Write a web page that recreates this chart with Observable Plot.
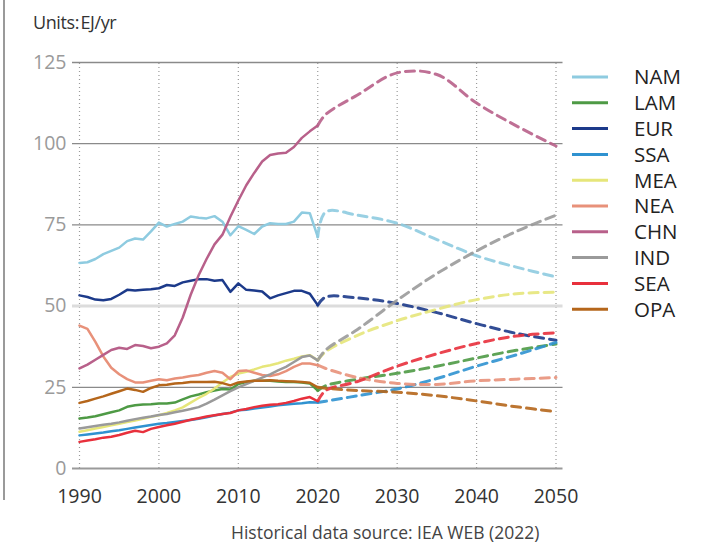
<!DOCTYPE html>
<html>
<head>
<meta charset="utf-8">
<script src="https://cdn.jsdelivr.net/npm/d3@7"></script>
<script src="https://cdn.jsdelivr.net/npm/@observablehq/plot@0.6"></script>
<style>
  html, body { margin: 0; padding: 0; background: #fff; }
  #wrap { position: relative; width: 714px; height: 545px; font-family: "Open Sans", "Noto Sans", sans-serif; overflow: hidden; }
  #wrap svg { display: block; }
  #units { position: absolute; left: 33px; top: 10px; font-size: 18px; letter-spacing: -0.4px; color: #333; white-space: nowrap; }
  #caption { position: absolute; left: 231px; top: 520px; font-size: 17.5px; color: #444; white-space: nowrap; }
  #border { position: absolute; left: 3px; top: 0; width: 2px; height: 500px; background: #9a9a9a; }
  #legend { position: absolute; left: 0; top: 0; }
</style>
</head>
<body>
<div id="wrap">
  <div id="border"></div>
  <div id="units">Units:&#8202;EJ/yr</div>
  <div id="chart"></div>
  <div id="caption">Historical data source: IEA WEB (2022)</div>
</div>
<script>
// ---------------- data ----------------
const regions = ["NAM", "LAM", "EUR", "SSA", "MEA", "NEA", "CHN", "IND", "SEA", "OPA"];
const regionColors = ["#8ecbe0", "#4e9a45", "#1c3a8a", "#2f92d0", "#e6e67a", "#e8917a", "#b8608a", "#9a9a9a", "#e8303c", "#b5661b"];

const histYears = d3.range(1990, 2021); // 1990..2020
const projYears = [2020, 2021, 2025, 2030, 2035, 2040, 2045, 2050];

const histNAM = [63.3, 63.5, 64.5, 66, 67, 68, 70, 70.8, 70.5, 73, 75.7, 74.5, 75.3, 76, 77.6, 77.2, 77, 77.7, 76, 71.8, 74.6, 73.5, 72.2, 74.5, 75.5, 75.3, 75.3, 76, 78.8, 78.6, 71.3];
const histLAM = [15.4, 15.7, 16.1, 16.7, 17.3, 17.9, 19, 19.5, 19.7, 19.8, 20, 20, 20.3, 21.3, 22.2, 22.8, 23.5, 24, 24.5, 24.3, 26, 26.6, 27, 27, 27, 26.8, 26.6, 26.6, 26.5, 26.2, 24];
const histEUR = [53.3, 52.8, 52, 51.8, 52.2, 53.5, 55, 54.8, 55, 55.2, 55.5, 56.5, 56.2, 57.3, 57.8, 58.3, 58.3, 57.8, 58, 54.4, 57, 55, 54.8, 54.5, 52.4, 53.3, 54, 54.7, 54.7, 53.8, 50.3];
const histSSA = [10.2, 10.5, 10.8, 11.1, 11.5, 11.8, 12.2, 12.6, 13, 13.4, 13.8, 14, 14.3, 14.6, 14.9, 15.3, 15.8, 16.3, 16.8, 17.2, 17.9, 18.1, 18.5, 18.8, 19.1, 19.5, 19.7, 19.9, 20.1, 20.4, 20.3];
const histMEA = [11.3, 11.8, 12.3, 12.8, 13.3, 13.8, 14.3, 14.8, 15.3, 15.9, 16.4, 17.1, 17.9, 18.8, 20.3, 21.7, 23, 24.6, 26.5, 28.2, 29.2, 29.8, 30.5, 31.3, 31.8, 32.4, 33.2, 33.8, 34.5, 34.9, 33.3];
const histNEA = [44, 43, 39, 34.5, 31, 29, 27.5, 26.5, 26.5, 27, 27.5, 27.2, 27.7, 28, 28.5, 28.8, 29.5, 30, 29.5, 27.5, 30, 30.2, 29.5, 28.8, 28.5, 29, 30, 31.3, 32.3, 32.3, 31.8];
const histCHN = [30.8, 32, 33.5, 35, 36.5, 37.2, 36.8, 38, 37.7, 37, 37.5, 38.5, 41, 46.5, 53.5, 59.5, 64.5, 69, 72, 77.5, 82.5, 87.2, 91, 94.5, 96.5, 97, 97.2, 99, 101.8, 103.8, 105.6];
const histIND = [12.3, 12.7, 13.1, 13.5, 13.8, 14.2, 14.7, 15.2, 15.6, 16, 16.5, 16.8, 17.3, 17.8, 18.3, 18.9, 20, 21.2, 22.5, 23.8, 25, 26, 27, 28, 29, 30.2, 31.3, 32.8, 34.3, 34.8, 33.3];
const histSEA = [8.2, 8.6, 9, 9.5, 9.8, 10.3, 11, 11.6, 11.2, 12.2, 12.8, 13.3, 13.8, 14.4, 15, 15.5, 16, 16.4, 16.8, 17.1, 17.9, 18.3, 18.9, 19.3, 19.6, 19.8, 20.2, 20.8, 21.5, 22, 20.7];
const histOPA = [20.2, 20.8, 21.5, 22.2, 23, 23.8, 24.6, 24.2, 23.6, 24.8, 25.6, 25.8, 26.2, 26.3, 26.6, 26.6, 26.6, 26.7, 26.3, 25.6, 26.5, 26.8, 27, 27, 27.2, 27, 26.9, 26.8, 26.6, 26.4, 25];

const projNAM = [71.3, 79, 78, 75.5, 70.5, 65.5, 62, 59];
const projLAM = [24, 25.5, 27.5, 29.3, 31.5, 34, 36.4, 38.3];
const projEUR = [50.3, 52.8, 52.5, 50.8, 48, 44.6, 41.6, 39.5];
const projSSA = [20.3, 20.7, 22.4, 24.5, 27.7, 31.5, 35, 38.8];
const projMEA = [33.3, 36, 41, 45.5, 49, 52, 53.8, 54.3];
const projNEA = [31.8, 30.8, 28, 26.2, 25.9, 27, 27.5, 28];
const projCHN = [105.6, 109, 115, 121.8, 121.3, 112.5, 105.5, 99.3];
const projIND = [33.3, 36.5, 42.8, 51.8, 60, 67, 73, 78];
const projSEA = [20.7, 24, 26.8, 31.5, 35.3, 38.5, 40.8, 41.8];
const projOPA = [25, 24.7, 24, 23.5, 22.4, 20.8, 19, 17.5];

const yTicks = [0, 25, 50, 75, 100, 125];
const xTicks = [1990, 2000, 2010, 2020, 2030, 2040, 2050];

// ---------------- build tables ----------------
const histByRegion = {NAM: histNAM, LAM: histLAM, EUR: histEUR, SSA: histSSA, MEA: histMEA, NEA: histNEA, CHN: histCHN, IND: histIND, SEA: histSEA, OPA: histOPA};
const projByRegion = {NAM: projNAM, LAM: projLAM, EUR: projEUR, SSA: projSSA, MEA: projMEA, NEA: projNEA, CHN: projCHN, IND: projIND, SEA: projSEA, OPA: projOPA};

const hist = regions.flatMap(r => histYears.map((yr, i) => ({region: r, year: yr, value: histByRegion[r][i]})));
const proj = regions.flatMap(r => projYears.map((yr, i) => ({region: r, year: yr, value: projByRegion[r][i]})));

const W = 714, H = 545;
const chart = Plot.plot({
  width: W,
  height: H,
  marginLeft: 79,
  marginRight: 158.5,
  marginTop: 62,
  marginBottom: 77,
  style: {fontFamily: '"Open Sans", "Noto Sans", sans-serif', background: "transparent"},
  x: {domain: [1990, 2050], ticks: xTicks, tickFormat: d => String(d), label: null},
  y: {domain: [0, 125], ticks: yTicks, label: null},
  color: {domain: regions, range: regionColors},
  marks: [
    Plot.ruleX(xTicks, {y1: 0, y2: 125, stroke: "#9a9a9a", strokeWidth: 1.2, strokeDasharray: "1,3"}),
    Plot.ruleY([25, 75, 100, 125], {stroke: "#8a8a8a", strokeWidth: 1.3, insetLeft: -7, insetRight: -7}),
    Plot.ruleY([50], {stroke: "#dcdcdc", strokeWidth: 3, insetLeft: -7, insetRight: -7}),
    Plot.ruleY([0], {stroke: "#9a9a9a", strokeWidth: 2, insetLeft: -7, insetRight: -7}),
    Plot.axisY(yTicks, {tickSize: 0, tickPadding: 13, fontSize: 19.5, color: "#9a9a9a", label: null}),
    Plot.axisX(xTicks, {tickSize: 0, tickPadding: 21, fontSize: 19.5, color: "#333", label: null, tickFormat: d => String(d)}),
    Plot.line(proj, {x: "year", y: "value", z: "region", stroke: "region", strokeWidth: 3, strokeDasharray: "9,6", curve: "catmull-rom", strokeOpacity: 0.9}),
    Plot.line(hist, {x: "year", y: "value", z: "region", stroke: "region", strokeWidth: 2.5})
  ]
});
document.getElementById("chart").appendChild(chart);

// ---------------- legend ----------------
const legendTop = 77, legendStep = 25.8;
const lg = d3.select("#wrap").append("svg")
  .attr("id", "legend").attr("width", W).attr("height", H)
  .style("position", "absolute").style("left", "0px").style("top", "0px");
regions.forEach((r, i) => {
  const y = legendTop + i * legendStep;
  lg.append("line").attr("x1", 572).attr("x2", 608).attr("y1", y).attr("y2", y)
    .attr("stroke", regionColors[i]).attr("stroke-width", 3);
  lg.append("text").attr("x", 634).attr("y", y).attr("dy", "0.36em")
    .attr("font-size", 20.5).attr("fill", "#222")
    .attr("font-family", '"Open Sans", "Noto Sans", sans-serif')
    .text(r);
});
</script>
</body>
</html>
